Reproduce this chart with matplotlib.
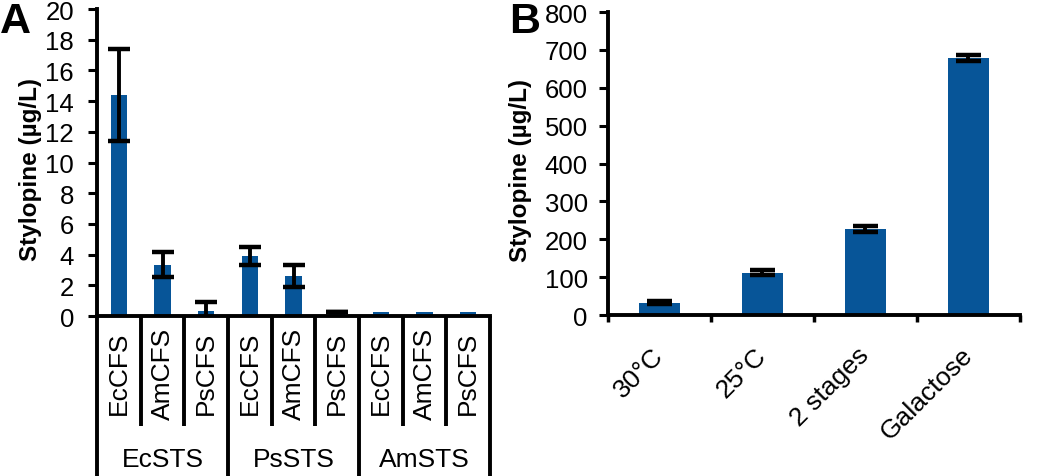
import numpy as np
import matplotlib.pyplot as plt
import matplotlib.transforms as mtransforms

plt.rcParams['font.family'] = ['Liberation Sans', 'DejaVu Sans']

# panel A data
groups = ['EcSTS', 'PsSTS', 'AmSTS']
cfs = ['EcCFS', 'AmCFS', 'PsCFS']
a_vals = [14.4, 3.35, 0.3, 3.9, 2.6, 0.25, 0.25, 0.25, 0.25]
a_err = [3.0, 0.8, 0.6, 0.6, 0.7, 0.02, 0, 0, 0]

# panel B data
b_labels = ['30°C', '25°C', '2 stages', 'Galactose']
b_vals = [33, 112, 226, 678]
b_err = [4, 6, 8, 8]

blue = '#075598'
fs = 19
lw = 2.8

fig = plt.figure(figsize=(10.5, 4.77), dpi=100)
axA = fig.add_axes([0.0924, 0.3354, 0.3743, 0.6436])
axB = fig.add_axes([0.579, 0.3375, 0.3924, 0.6352])

def style(ax, pad, lx):
    for s in ['top', 'right']:
        ax.spines[s].set_visible(False)
    for s in ['left', 'bottom']:
        ax.spines[s].set_linewidth(lw)
    ax.tick_params(axis='y', direction='out', length=6.5, width=2.2, labelsize=18.5, pad=pad)
    ax.set_ylabel('Stylopine (µg/L)', fontsize=17.5, fontweight='bold')
    ax.yaxis.set_label_coords(lx, 0.48)

# ---- A
n = len(groups) * len(cfs)
x = np.arange(n)
axA.bar(x, a_vals, width=0.37, color=blue, zorder=2)
idx = [i for i in range(n) if a_err[i] > 0]
axA.errorbar([x[i] for i in idx], [a_vals[i] for i in idx], yerr=[a_err[i] for i in idx],
             fmt='none', ecolor='black', elinewidth=2.8, capsize=8, capthick=3.2, zorder=3)
axA.set_xlim(-0.5, n - 0.5)
axA.set_ylim(0, 20)
axA.set_yticks(range(0, 21, 2))
axA.set_xticks([])
style(axA, 10, -0.14)

tr = mtransforms.blended_transform_factory(axA.transData, axA.transAxes)
for i in range(n + 1):
    bottom = -0.53 if i % 3 == 0 else -0.358
    axA.plot([i - 0.5, i - 0.5], [0, bottom], color='black', lw=lw, transform=tr,
             clip_on=False, solid_capstyle='butt')
for g, grp in enumerate(groups):
    for c, lab in enumerate(cfs):
        axA.text(g * 3 + c, -0.185, lab, rotation=90, ha='center', va='center',
                 fontsize=fs, transform=tr)
    axA.text(g * 3 + 1, -0.465, grp, ha='center', va='center', fontsize=fs, transform=tr)

# ---- B
xb = np.arange(len(b_labels))
axB.bar(xb, b_vals, width=0.39, color=blue, zorder=2)
axB.errorbar(xb, b_vals, yerr=b_err, fmt='none', ecolor='black', elinewidth=2.8,
             capsize=9, capthick=3.2, zorder=3)
axB.set_xlim(-0.5, len(b_labels) - 0.5)
axB.set_ylim(0, 800)
axB.set_yticks(range(0, 801, 100))
axB.set_xticks(xb)
axB.set_xticklabels(b_labels, rotation=45, ha='right', va='center',
                    rotation_mode='anchor', fontsize=fs)
axB.set_xticks(np.arange(len(b_labels) + 1) - 0.5, minor=True)
axB.tick_params(axis='x', which='major', length=0, pad=26)
axB.tick_params(axis='x', which='minor', direction='out', length=5, width=2.5)
style(axB, 8, -0.184)

fig.text(0.0, 0.995, 'A', fontsize=31, fontweight='bold', ha='left', va='top')
fig.text(0.485, 0.995, 'B', fontsize=31, fontweight='bold', ha='left', va='top')

fig.savefig('out.png', dpi=100)
